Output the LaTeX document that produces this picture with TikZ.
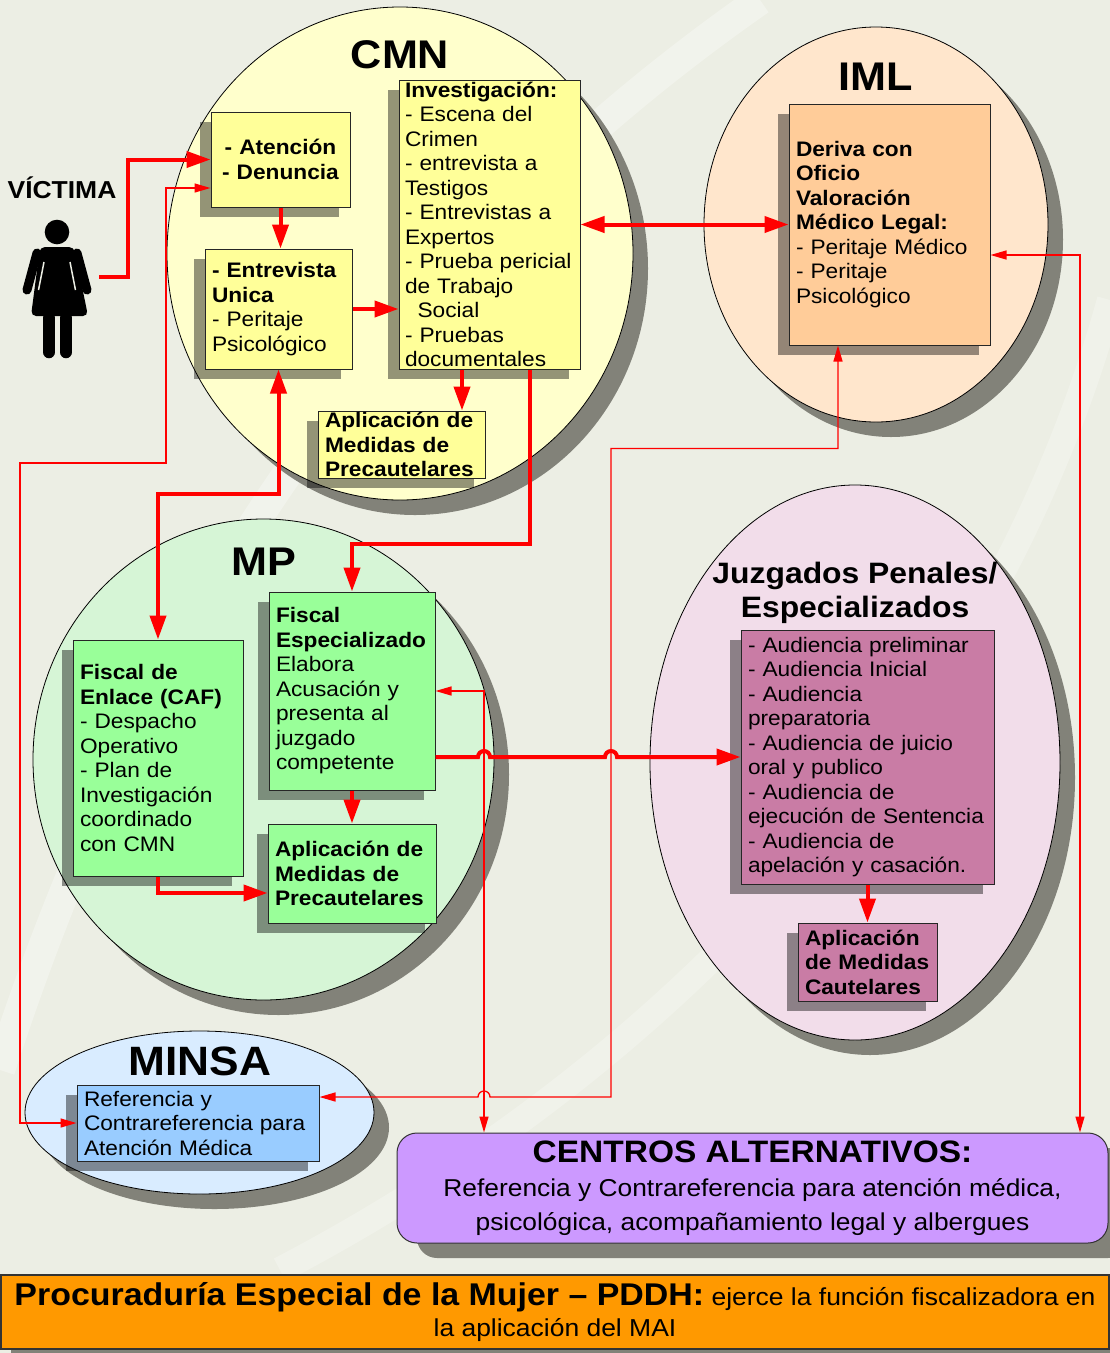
\documentclass[tikz,border=0pt]{standalone}
\usepackage{fontspec}
\setmainfont{Liberation Sans}[FakeStretch=1.08]
\usetikzlibrary{shapes.geometric,arrows.meta,shadows,calc}

\definecolor{fondo}{HTML}{ECEEE4}
\definecolor{sombra}{HTML}{828279}
\definecolor{cmnFill}{HTML}{FFFFCC}
\definecolor{cmnBox}{HTML}{FFFF99}
\definecolor{imlFill}{HTML}{FFE6CC}
\definecolor{imlBox}{HTML}{FFCC99}
\definecolor{mpFill}{HTML}{D6F5D6}
\definecolor{mpBox}{HTML}{99FF99}
\definecolor{juzFill}{HTML}{F2DDEA}
\definecolor{juzBox}{HTML}{C97CA5}
\definecolor{minsaFill}{HTML}{D9ECFF}
\definecolor{minsaBox}{HTML}{99CCFF}
\definecolor{centrosFill}{HTML}{CC99FF}
\definecolor{pddhFill}{HTML}{FF9900}

\tikzset{
    organo/.style={ellipse, draw=black, line width=0.8pt,
        drop shadow={shadow xshift=15pt, shadow yshift=-15pt, fill=sombra, opacity=1}},
    caja/.style={rectangle, draw=black!85, line width=1pt, inner xsep=7pt, inner ysep=0pt,
        align=left, font=\fontsize{21}{24.5}\selectfont,
        drop shadow={shadow xshift=-11pt, shadow yshift=-10pt, fill=black, opacity=.42}},
    negrita/.style={font=\fontsize{21}{24.5}\selectfont\bfseries},
    gruesa/.style={red, line width=4pt, >={Triangle[length=24pt,width=16pt]}},
    fina/.style={red, line width=1.3pt, >={Triangle[length=16pt,width=9pt]}},
}

\begin{document}
\begin{tikzpicture}[x=1pt, y=-1pt]
    \useasboundingbox (0,0) rectangle (1110,1353);
    \fill[fondo] (0,0) rectangle (1110,1353);
    \draw[white, opacity=.3, line width=30pt] (0,1070) .. controls (120,700) and (330,300) .. (760,0);
    \draw[white, opacity=.25, line width=26pt] (280,1270) .. controls (700,1050) and (1000,700) .. (1110,300);

    \foreach \nombre/\col/\x/\y/\w/\h in {cmn/cmnFill/400/253.5/466/493, iml/imlFill/876/224.5/344/395,
        mp/mpFill/263.5/759.5/461/481, juz/juzFill/855/762.5/410/555, minsa/minsaFill/199.5/1112.5/349/163} {
        \node[organo, fill=\col, minimum width=\w pt, minimum height=\h pt] (\nombre) at (\x,\y) {};
    };
    \foreach \nombre/\texto/\x/\y/\s in {cmnTitulo/CMN/400/68/40, imlTitulo/IML/875.5/90/40,
        mpTitulo/MP/263.5/575/40, minsaTitulo/MINSA/200/1075/41} {
        \node[anchor=base, font=\fontsize{\s}{\s}\selectfont\bfseries] (\nombre) at (\x,\y) {\texto};
    };
    \node[align=center, font=\fontsize{29.5}{34}\selectfont\bfseries] (juzTitulo) at (855,593) {Juzgados Penales/\\Especializados};

    % victima
    \node[anchor=base, font=\fontsize{24.5}{24.5}\selectfont\bfseries] (victima) at (62,198) {VÍCTIMA};
    \fill (57,232) circle (12.3);
    \fill[rounded corners=5pt] (40,247) -- (74,247) -- (88,316) -- (31,316) -- cycle;
    \draw[line width=9pt, line cap=round] (37,253) -- (27,290);
    \draw[line width=9pt, line cap=round] (77,253) -- (87,290);
    \draw[fondo, line width=1.5pt] (44,262) -- (38.5,290);
    \draw[fondo, line width=1.5pt] (70,262) -- (75.5,290);
    \draw[line width=12.5pt, line cap=round] (49,318) -- (49,352);
    \draw[line width=12.5pt, line cap=round] (66,318) -- (66,352);
    \coordinate (mano) at (99,277);

    \node[caja, negrita, align=center, fill=cmnBox, minimum width=139pt, text width=125pt, minimum height=95pt] (atencion) at (280.5,159.5) {- Atención\\- Denuncia};
    \node[caja, fill=cmnBox, minimum width=147pt, text width=133pt, minimum height=120pt] (entrevista) at (278.5,309) {\textbf{- Entrevista}\\\textbf{Unica}\\- Peritaje\\Psicológico};
    \node[caja, fill=cmnBox, inner xsep=6pt, minimum width=181pt, text width=169pt, minimum height=289pt] (invest) at (489.5,224.5) {\textbf{Investigación:}\\- Escena del\\Crimen\\- entrevista a\\Testigos\\- Entrevistas a\\Expertos\\- Prueba pericial\\de Trabajo\\\hspace*{0.6em}Social\\- Pruebas\\documentales};
    \node[caja, negrita, fill=cmnBox, minimum width=167pt, text width=153pt, minimum height=67pt] (aplicCMN) at (401.5,444.5) {Aplicación de\\Medidas de\\Precautelares};
    \node[caja, fill=imlBox, minimum width=201pt, text width=187pt, minimum height=241pt] (deriva) at (889.5,224.5) {\textbf{Deriva con}\\\textbf{Oficio}\\\textbf{Valoración}\\\textbf{Médico Legal:}\\- Peritaje Médico\\- Peritaje\\Psicológico};
    \node[caja, fill=mpBox, minimum width=170pt, text width=156pt, minimum height=236pt] (fiscalEnlace) at (158,758) {\textbf{Fiscal de}\\\textbf{Enlace (CAF)}\\- Despacho\\Operativo\\- Plan de\\Investigación\\coordinado\\con CMN};
    \node[caja, fill=mpBox, minimum width=166pt, text width=152pt, minimum height=198pt] (fiscalEsp) at (352,691) {\textbf{Fiscal}\\\textbf{Especializado}\\Elabora\\Acusación y\\presenta al\\juzgado\\competente};
    \node[caja, negrita, fill=mpBox, minimum width=168pt, text width=154pt, minimum height=99pt] (aplicMP) at (352,873.5) {Aplicación de\\Medidas de\\Precautelares};
    \node[caja, fill=juzBox, minimum width=253pt, text width=239pt, minimum height=254pt] (audiencias) at (867.5,757) {- Audiencia preliminar\\- Audiencia Inicial\\- Audiencia\\preparatoria\\- Audiencia de juicio\\oral y publico\\- Audiencia de\\ejecución de Sentencia\\- Audiencia de\\apelación y casación.};
    \node[caja, negrita, fill=juzBox, minimum width=139pt, text width=125pt, minimum height=78pt] (aplicJuz) at (867.5,962) {Aplicación\\de Medidas\\Cautelares};
    \node[caja, fill=minsaBox, minimum width=242pt, text width=228pt, minimum height=76pt] (refMinsa) at (198,1123) {Referencia y\\Contrareferencia para\\Atención Médica};

    \node[rectangle, rounded corners=20pt, draw=black!80, line width=1pt, fill=centrosFill, minimum width=711pt, minimum height=110pt,
        align=center, font=\fontsize{24.4}{34}\selectfont,
        drop shadow={shadow xshift=20pt, shadow yshift=-15pt, fill=sombra, opacity=1}] (centros) at (752.5,1188)
        {{\fontsize{31}{34}\selectfont\bfseries CENTROS ALTERNATIVOS:}\\Referencia y Contrareferencia para atención médica,\\psicológica, acompañamiento legal y albergues};
    \node[rectangle, draw=black!80, line width=1.2pt, fill=pddhFill, minimum width=1108pt, minimum height=74pt,
        align=center, font=\fontsize{24.5}{31}\selectfont,
        drop shadow={shadow xshift=10pt, shadow yshift=-7pt, fill=sombra, opacity=1}] (pddh) at (555,1312)
        {{\fontsize{31.4}{31}\selectfont\bfseries Procuraduría Especial de la Mujer – PDDH:} ejerce la función fiscalizadora en\\la aplicación del MAI};

    \coordinate (investBajo) at ([xshift=-27.5pt]invest.south);
    \coordinate (investSalida) at ([xshift=40.5pt]invest.south);

    \draw[gruesa,->] (mano) -- ++(29,0) |- (atencion.west);
    \draw[gruesa,->] (atencion.south) -- (atencion.south |- entrevista.north);
    \draw[gruesa,->] (entrevista.east) -- (entrevista.east -| invest.west);
    \draw[gruesa,->] (investBajo) -- (investBajo |- aplicCMN.north);
    \draw[gruesa,<->] (entrevista.south) -- ++(0,124) -| (fiscalEnlace.north);
    \draw[gruesa,->] (investSalida) -- ++(0,174) -| (fiscalEsp.north);
    \draw[gruesa,<->] (invest.east) -- (deriva.west);
    \draw[gruesa,->] (fiscalEsp.south) -- (aplicMP.north);
    \draw[gruesa,->] (fiscalEnlace.south) |- ([yshift=-19.5pt]aplicMP.west);
    \draw[gruesa,->] (audiencias.south) -- (aplicJuz.north);

    \draw[fina,<->] ([yshift=-28.5pt]atencion.west) -| (166,463) -- (20,463) |- (refMinsa.west);
    \draw[fina,<->] ([xshift=-51.5pt]deriva.south) -- ++(0,103) -| (611,1097) -- (490,1097)
        arc[start angle=0, end angle=180, radius=6pt] -- ([yshift=26pt]refMinsa.east);
    \draw[fina,<->] (fiscalEsp.east) -| ([xshift=-268.5pt]centros.north);
    \draw[fina,<->] ([yshift=-30.5pt]deriva.east) -| ([xshift=327.5pt]centros.north);

    \draw[gruesa,->] ([yshift=-66pt]fiscalEsp.east) -- (478,757) arc[start angle=180, end angle=0, radius=6pt]
        -- (605,757) arc[start angle=180, end angle=0, radius=6pt] -- (audiencias.west);
\end{tikzpicture}
\end{document}
